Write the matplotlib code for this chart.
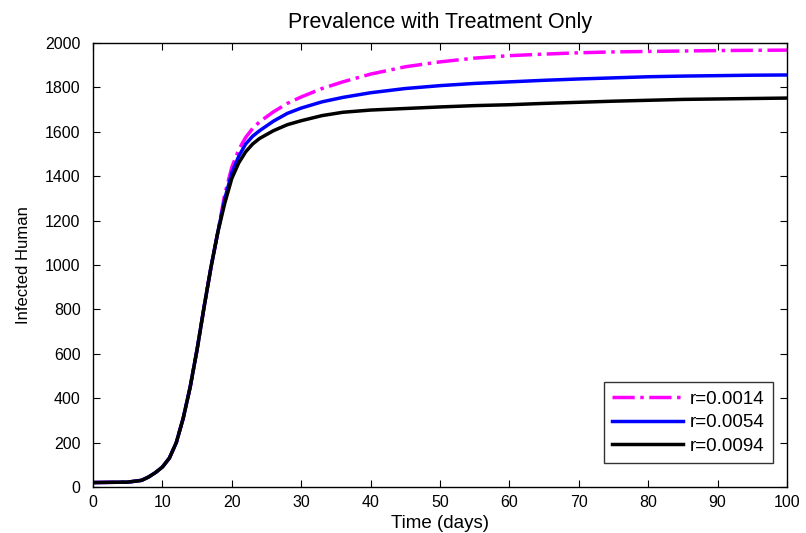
import matplotlib
matplotlib.use("Agg")
import matplotlib.pyplot as plt

plt.rcParams['font.family'] = ['Liberation Sans', 'DejaVu Sans']

# days
days = [0, 5, 7, 8, 9, 10, 11, 12, 13, 14, 15, 16, 17, 18, 19, 20, 21, 22, 23, 24,
        26, 28, 30, 33, 36, 40, 45, 50, 55, 60, 65, 70, 75, 80, 85, 90, 95, 100]

early = [20, 22, 30, 45, 65, 90, 130, 200, 310, 450, 620, 810, 990, 1150]

r0014 = early + [1320, 1440, 1520, 1575, 1615, 1645, 1690, 1728, 1757, 1795, 1825,
                 1860, 1893, 1915, 1932, 1943, 1950, 1956, 1960, 1962, 1964, 1966, 1967, 1968]
r0054 = early + [1300, 1415, 1490, 1545, 1580, 1605, 1648, 1683, 1707, 1735, 1755,
                 1776, 1795, 1808, 1818, 1825, 1832, 1838, 1843, 1848, 1851, 1853, 1855, 1856]
r0094 = early + [1280, 1390, 1460, 1510, 1545, 1570, 1605, 1632, 1650, 1673, 1688,
                 1698, 1705, 1712, 1718, 1722, 1728, 1733, 1738, 1742, 1746, 1748, 1750, 1752]

fig = plt.figure(figsize=(8.06, 5.33), dpi=100)
ax = fig.add_axes([0.1154, 0.0863, 0.861, 0.833])

ax.plot(days, r0014, color='#ff00ff', linestyle='-.', linewidth=2.5, label='r=0.0014')
ax.plot(days, r0054, color='#0000ff', linestyle='-', linewidth=2.5, label='r=0.0054')
ax.plot(days, r0094, color='black', linestyle='-', linewidth=2.5, label='r=0.0094')

ax.set_xlim(0, 100)
ax.set_ylim(0, 2000)
ax.set_xticks(range(0, 101, 10))
ax.set_yticks(range(0, 2001, 200))
ax.tick_params(direction='in', top=True, right=True, length=5, labelsize=11.5)
ax.tick_params(axis='y', pad=9)
ax.tick_params(axis='x', pad=6)
for s in ax.spines.values():
    s.set_linewidth(1.0)

ax.set_title('Prevalence with Treatment Only', fontsize=15.5, pad=11)
ax.set_xlabel('Time (days)', fontsize=13.5, labelpad=3)
ax.set_ylabel('Infected Human', fontsize=12, labelpad=10)

leg = ax.legend(loc='lower right', bbox_to_anchor=(0.98, 0.054), borderaxespad=0,
                fontsize=13.5, frameon=True, fancybox=False, borderpad=0.45,
                handlelength=3.8, handletextpad=0.35, labelspacing=0.33)
leg.get_frame().set_edgecolor('black')
leg.get_frame().set_linewidth(1.0)

fig.savefig('out.png', dpi=100)
